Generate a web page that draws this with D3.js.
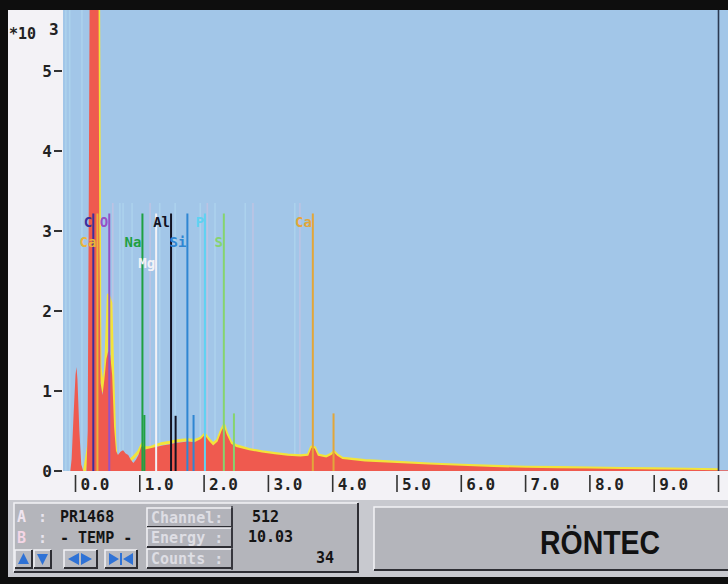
<!DOCTYPE html>
<html><head><meta charset="utf-8">
<script src="https://cdn.jsdelivr.net/npm/d3@7"></script>
<style>html,body{margin:0;padding:0;background:#f3f2f6;}svg{display:block}</style>
</head><body><svg id="c" width="728" height="584"></svg>
<script>
// ---- data (energy in keV, counts in x10^3) ----
const energyA = [-0.19,-0.08,-0.06,-0.03,0.0,0.015,0.03,0.06,0.09,0.12,0.17,0.19,0.21,0.23,0.35,0.37,0.39,0.42,0.45,0.48,0.51,0.54,0.57,0.6,0.63,0.66,0.7,0.74,0.78,0.82,0.86,0.9,0.94,0.98,1.02,1.05,1.08,1.15,1.25,1.35,1.45,1.55,1.65,1.75,1.85,1.95,2.01,2.07,2.14,2.21,2.27,2.31,2.35,2.42,2.5,2.7,2.9,3.1,3.3,3.5,3.62,3.67,3.72,3.77,3.9,3.98,4.02,4.07,4.15,4.5,5,5.5,6,6.5,7,7.5,8,8.5,9,9.5,10,10.2];
const countsA = [0,0,0.15,0.7,1.2,1.3,1.15,0.5,0.08,0,0,0.5,4,8,8,3,1.1,0.95,1.15,1.4,1.5,1.45,1.2,0.55,0.25,0.2,0.24,0.26,0.22,0.2,0.14,0.1,0.14,0.2,0.3,0.32,0.27,0.28,0.3,0.32,0.33,0.35,0.36,0.37,0.36,0.4,0.45,0.38,0.32,0.37,0.5,0.56,0.46,0.34,0.3,0.26,0.23,0.21,0.19,0.18,0.19,0.29,0.28,0.19,0.17,0.2,0.23,0.19,0.15,0.12,0.1,0.08,0.065,0.05,0.04,0.035,0.03,0.025,0.02,0.015,0.01,0.01];
const energyB = [0.14,0.2,0.27,0.29,0.35,0.38,0.43,0.47,0.51,0.55,0.58,0.61,0.64,0.7,0.8,0.9,0.98,1.04,1.08,1.15,1.25,1.35,1.45,1.55,1.65,1.75,1.85,1.95,2.01,2.07,2.14,2.21,2.27,2.31,2.35,2.42,2.5,2.7,2.9,3.1,3.3,3.5,3.62,3.67,3.72,3.77,3.9,3.98,4.02,4.07,4.15,4.5,5,5.5,6,6.5,7,7.5,8,8.5,9,9.5,10];
const countsB = [0,0.3,0.9,8,8,1.3,1.0,1.3,2.2,2.1,1.2,0.4,0.05,0.04,0.1,0.17,0.24,0.34,0.29,0.29,0.32,0.345,0.355,0.375,0.385,0.39,0.38,0.41,0.46,0.395,0.34,0.385,0.51,0.57,0.47,0.355,0.315,0.27,0.24,0.22,0.2,0.19,0.2,0.3,0.29,0.2,0.18,0.21,0.24,0.2,0.16,0.13,0.108,0.088,0.073,0.058,0.048,0.043,0.038,0.032,0.027,0.022,0.017];

const markerNames  = ["C","O","Ca","Na","Mg","Al","Si","P","S","Ca"];
const markerEnergy = [0.277,0.525,0.341,1.041,1.254,1.486,1.740,2.013,2.307,3.691];
const markerRow    = [0,0,1,1,2,0,1,0,1,0];
const markerColor  = ["#3c2e9c","#9452c6","#e8b43a","#1fa042","#f2f2f6","#121222","#2f86d2","#5fd2f2","#86d46e","#e2a63a"];
const markerTop = 3.22;

const betaEnergy = [1.071,1.557,1.836,2.464,4.013];
const betaHeight = [0.7,0.69,0.7,0.72,0.72];
const betaColor  = ["#1fa042","#121222","#2f86d2","#86d46e","#e2a63a"];

const ghostEnergy = [-0.15,-0.09,0.1,0.58,0.69,0.74,0.88,1.16,1.31,1.55,1.94,2.05,2.17,2.64,2.76,3.41,3.49];
const ghostColor  = ["#bfe9f7","#bfe9f7","#bfe9f7","#f0c0dc","#bfe9f7","#bfe9f7","#bfe9f7","#f0c0dc","#bfe9f7","#bfe9f7","#bfe9f7","#f0c0dc","#bfe9f7","#bfe9f7","#f0c0dc","#bfe9f7","#f0c0dc"];

const yTicks = [0,1,2,3,4,5];
const xTicks = [0,1,2,3,4,5,6,7,8,9,10];
const xTickLabels = ["0.0","1.0","2.0","3.0","4.0","5.0","6.0","7.0","8.0","9.0",""];
const cursorEnergy = 10.0;

const infoLabels = ["A","B"];
const infoValues = ["PR1468","- TEMP -"];
const fieldLabels = ["Channel:","Energy :","Counts :"];
const fieldValues = ["512","10.03","34"];

// ---- drawing ----
const svg = d3.select("#c");
const mono = "'DejaVu Sans Mono', 'Liberation Mono', monospace";
const W = 728, H = 584;
const plot = {x0: 63, y0: 10, x1: 728, y1: 471};

const x = d3.scaleLinear().domain([0, 10]).range([75.5, 718.5]);
const y = d3.scaleLinear().domain([0, 5]).range([471, 71]);

svg.append("rect").attr("width", W).attr("height", H).attr("fill", "#f3f2f6");

svg.append("defs").append("clipPath").attr("id", "pc")
  .append("rect").attr("x", plot.x0).attr("y", plot.y0)
  .attr("width", plot.x1 - plot.x0).attr("height", plot.y1 - plot.y0);

svg.append("rect").attr("x", plot.x0).attr("y", plot.y0)
  .attr("width", plot.x1 - plot.x0).attr("height", plot.y1 - plot.y0)
  .attr("fill", "#a2c6e8");

const g = svg.append("g").attr("clip-path", "url(#pc)");

// ghost marker lines
g.selectAll("line.ghost").data(ghostEnergy).join("line")
  .attr("x1", d => x(d)).attr("x2", d => x(d))
  .attr("y1", d => d < 0.2 ? y(5.8) : y(3.35)).attr("y2", y(0))
  .attr("stroke", (d, i) => ghostColor[i]).attr("stroke-width", 1.6).attr("opacity", 0.35);

// spectrum B (yellow line) drawn beneath A so it only shows where it exceeds A
const dataB = energyB.map((e, i) => [e, countsB[i]]);
g.append("path").datum(dataB)
  .attr("d", d3.line().x(d => x(d[0])).y(d => y(d[1])))
  .attr("fill", "none").attr("stroke", "#f2e43a").attr("stroke-width", 3)
  .attr("stroke-linejoin", "round");

// spectrum A (red area)
const dataA = energyA.map((e, i) => [e, countsA[i]]);
g.append("path").datum(dataA)
  .attr("d", d3.area().x(d => x(d[0])).y0(y(0)).y1(d => y(d[1])))
  .attr("fill", "#ef5a4f");

// marker lines
g.selectAll("line.mk").data(markerEnergy).join("line")
  .attr("x1", d => x(d)).attr("x2", d => x(d))
  .attr("y1", y(markerTop)).attr("y2", y(0))
  .attr("stroke", (d, i) => markerColor[i]).attr("stroke-width", 2);

g.selectAll("line.beta").data(betaEnergy).join("line")
  .attr("x1", d => x(d)).attr("x2", d => x(d))
  .attr("y1", (d, i) => y(betaHeight[i])).attr("y2", y(0))
  .attr("stroke", (d, i) => betaColor[i]).attr("stroke-width", 2);

// marker labels
const rowY = [222, 242, 263];
g.selectAll("text.mk").data(markerNames).join("text")
  .attr("x", (d, i) => x(markerEnergy[i]) - 1)
  .attr("y", (d, i) => rowY[markerRow[i]])
  .attr("dominant-baseline", "central").attr("text-anchor", "end")
  .attr("font-family", mono).attr("font-weight", "bold").attr("font-size", 14)
  .attr("fill", (d, i) => markerColor[i]).text(d => d);

// cursor
g.append("line").attr("x1", x(cursorEnergy)).attr("x2", x(cursorEnergy))
  .attr("y1", plot.y0).attr("y2", plot.y1)
  .attr("stroke", "#2c3a52").attr("stroke-width", 1.6);

// y axis
const ya = svg.append("g");
yTicks.forEach(v => {
  ya.append("line").attr("x1", 54).attr("x2", 62).attr("y1", y(v)).attr("y2", y(v))
    .attr("stroke", "#333").attr("stroke-width", 2);
  ya.append("text").attr("x", 52).attr("y", y(v)).attr("dominant-baseline", "central")
    .attr("text-anchor", "end").attr("font-family", mono).attr("font-weight", "bold")
    .attr("font-size", 16).attr("fill", "#222").text(v);
});
ya.append("text").attr("x", 9).attr("y", 34).attr("dominant-baseline", "central")
  .attr("font-family", mono).attr("font-weight", "bold").attr("font-size", 15)
  .attr("fill", "#222").text("*10");
ya.append("text").attr("x", 49).attr("y", 29).attr("dominant-baseline", "central")
  .attr("font-family", mono).attr("font-weight", "bold").attr("font-size", 16)
  .attr("fill", "#222").text("3");

// x axis
const xa = svg.append("g");
xTicks.forEach((t, i) => {
  xa.append("line").attr("x1", x(t)).attr("x2", x(t)).attr("y1", 475).attr("y2", 492)
    .attr("stroke", "#333").attr("stroke-width", 1.6);
  xa.append("text").attr("x", x(t) + 5).attr("y", 484).attr("dominant-baseline", "central")
    .attr("font-family", mono).attr("font-weight", "bold").attr("font-size", 16)
    .attr("fill", "#222").text(xTickLabels[i]);
});

// bottom panel
const bp = svg.append("g");
bp.append("rect").attr("x", 8).attr("y", 500).attr("width", W - 8).attr("height", 77).attr("fill", "#c8c9cf");
function bevel(gx, x0, y0, w, h, fill) {
  gx.append("rect").attr("x", x0).attr("y", y0).attr("width", w).attr("height", h).attr("fill", fill);
  gx.append("path").attr("d", `M${x0},${y0 + h}V${y0}H${x0 + w}`).attr("fill", "none")
    .attr("stroke", "#f2f2f6").attr("stroke-width", 1.5);
  gx.append("path").attr("d", `M${x0},${y0 + h}H${x0 + w}V${y0}`).attr("fill", "none")
    .attr("stroke", "#2e2e34").attr("stroke-width", 2);
}
bevel(bp, 14, 503, 344, 69, "#b4b5bb");
bevel(bp, 374, 507, 360, 63, "#b4b5bb");

// info rows
const infoY = [517, 538];
infoLabels.forEach((lab, i) => {
  bp.append("text").attr("x", 17).attr("y", infoY[i]).attr("dominant-baseline", "central")
    .attr("font-family", mono).attr("font-weight", "bold").attr("font-size", 15)
    .attr("fill", i === 0 ? "#efe4ef" : "#f4d6e6").text(lab);
  bp.append("text").attr("x", 38).attr("y", infoY[i]).attr("dominant-baseline", "central")
    .attr("font-family", mono).attr("font-weight", "bold").attr("font-size", 15)
    .attr("fill", "#e8e4ee").text(":");
  bp.append("text").attr("x", 60).attr("y", infoY[i]).attr("dominant-baseline", "central")
    .attr("font-family", mono).attr("font-weight", "bold").attr("font-size", 15)
    .attr("fill", "#141414").text(infoValues[i]);
});

// field cells
const cellY = [508, 528, 549];
fieldLabels.forEach((lab, i) => {
  bevel(bp, 147, cellY[i], 85, 19, "#b2b3ba");
  bp.append("text").attr("x", 151).attr("y", cellY[i] + 10).attr("dominant-baseline", "central")
    .attr("font-family", mono).attr("font-weight", "bold").attr("font-size", 15)
    .attr("fill", "#dedee4").text(lab);
});
bp.append("line").attr("x1", 232).attr("x2", 232).attr("y1", 506).attr("y2", 570)
  .attr("stroke", "#3a3a40").attr("stroke-width", 1.5);
const valX = [252, 248, 334];
const valAnchor = ["start", "start", "end"];
fieldValues.forEach((v, i) => {
  bp.append("text").attr("x", valX[i]).attr("y", cellY[i] + 9).attr("dominant-baseline", "central")
    .attr("text-anchor", valAnchor[i])
    .attr("font-family", mono).attr("font-weight", "bold").attr("font-size", 15)
    .attr("fill", "#141414").text(v);
});

// buttons
const btn = [[15, 17], [34, 17], [64, 33], [105, 32]];
btn.forEach(b => bevel(bp, b[0], 550, b[1], 18, "#b9bac1"));
const blue = "#2f72d6";
bp.append("path").attr("d", "M18,564L23.5,553L29,564Z").attr("fill", blue);
bp.append("path").attr("d", "M37,554L42.5,565L48,554Z").attr("fill", blue);
bp.append("path").attr("d", "M68,559L79,553L79,565Z M92,559L81,553L81,565Z").attr("fill", blue);
bp.append("path").attr("d", "M109,553L119,559L109,565Z M133,553L123,559L133,565Z").attr("fill", blue);
bp.append("rect").attr("x", 120).attr("y", 553).attr("width", 2).attr("height", 12).attr("fill", blue);

// logo
bp.append("text").attr("x", 600).attr("y", 542).attr("dominant-baseline", "central")
  .attr("text-anchor", "middle")
  .attr("font-family", "'Liberation Sans Narrow', 'Liberation Sans', Arial, sans-serif")
  .attr("font-weight", "bold").attr("font-size", 34).attr("fill", "#111")
  .attr("textLength", 120).attr("lengthAdjust", "spacingAndGlyphs").text("RÖNTEC");

// frame
svg.append("rect").attr("x", 0).attr("y", 0).attr("width", W).attr("height", 10).attr("fill", "#0e0e0e");
svg.append("rect").attr("x", 0).attr("y", 0).attr("width", 8).attr("height", H).attr("fill", "#0e0e0e");
svg.append("rect").attr("x", 0).attr("y", 577).attr("width", W).attr("height", 7).attr("fill", "#0e0e0e");
</script></body></html>
